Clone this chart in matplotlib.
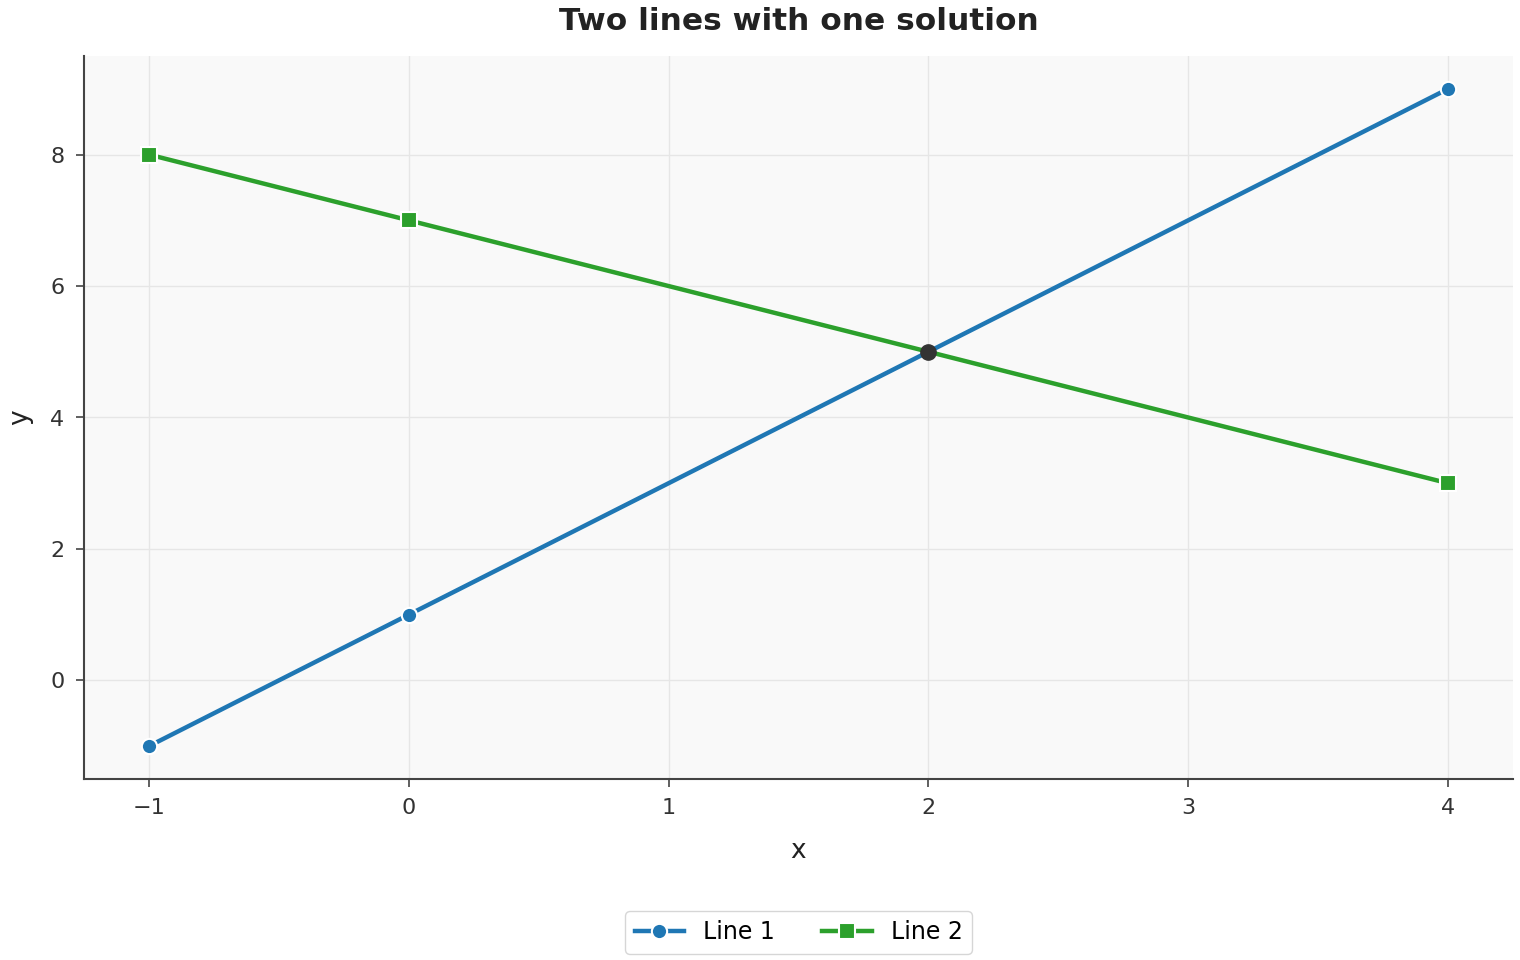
import numpy as np
import matplotlib.pyplot as plt

# data
x_vals = [-1, 0, 4]
line1_y = [-1, 1, 9]
line2_y = [8, 7, 3]
solution = (2, 5)

plt.rcParams['font.family'] = 'DejaVu Sans'

fig = plt.figure(figsize=(15.2, 9.6), dpi=100)
ax = fig.add_axes([84 / 1520, 1 - 779 / 960, (1513 - 84) / 1520, (779 - 56) / 960])
ax.set_facecolor('#f9f9f9')

ax.plot(x_vals, line1_y, color='#1f77b4', linewidth=3.2, marker='o', markersize=11,
        markeredgecolor='white', markeredgewidth=1.5, label='Line 1', zorder=3)
ax.plot(x_vals, line2_y, color='#2ca02c', linewidth=3.2, marker='s', markersize=11,
        markeredgecolor='white', markeredgewidth=1.5, label='Line 2', zorder=3)
ax.plot([solution[0]], [solution[1]], 'o', color='#333333', markersize=11, zorder=4)

ax.set_xlim(-1.25, 4.25)
ax.set_ylim(-1.5, 9.5)
ax.set_xticks([-1, 0, 1, 2, 3, 4])
ax.set_yticks([0, 2, 4, 6, 8])

ax.grid(True, color='#e6e6e6', linewidth=1)
ax.set_axisbelow(True)

for s in ['top', 'right']:
    ax.spines[s].set_visible(False)
for s in ['left', 'bottom']:
    ax.spines[s].set_color('#444444')
    ax.spines[s].set_linewidth(1.5)

ax.tick_params(colors='#444444', labelsize=16, length=6, width=1.2, pad=8)
for lbl in ax.get_xticklabels() + ax.get_yticklabels():
    lbl.set_color('#333333')

ax.set_xlabel('x', fontsize=19, color='#222222', labelpad=14)
ax.set_ylabel('y', fontsize=19, color='#222222', labelpad=12)
ax.set_title('Two lines with one solution', fontsize=22.5, fontweight='bold',
             color='#222222', pad=19)

ax.legend(loc='upper center', bbox_to_anchor=(0.5, -0.166), ncol=2, fontsize=17,
          frameon=True, edgecolor='#cccccc', handlelength=2.1, columnspacing=2)

fig.savefig('out.png', dpi=100)
